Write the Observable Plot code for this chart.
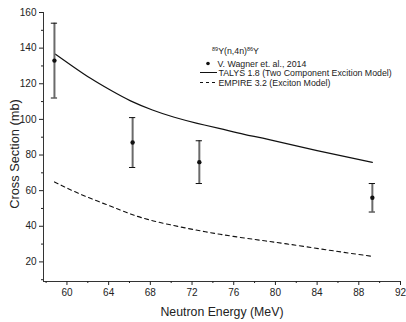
<!DOCTYPE html>
<html><head><meta charset="utf-8">
<script src="https://cdn.jsdelivr.net/npm/d3@7"></script>
<script src="https://cdn.jsdelivr.net/npm/@observablehq/plot@0.6"></script>
<style>
html,body{margin:0;padding:0;background:#fff;}
#chart{position:relative;width:406px;height:322px;font-family:"Liberation Sans",Arial,sans-serif;}
</style>
</head><body><div id="chart"></div>
<script>
// Experimental data: V. Wagner et. al., 2014
const expEnergy = [58.8, 66.3, 72.7, 89.3];
const expXs     = [133, 87, 76, 56];
const expLow    = [112, 73, 64, 48];
const expHigh   = [154, 101, 88, 64];

// TALYS 1.8 (Two Component Excition Model)
const talysEnergy = [58.9, 60.5, 62.3, 64.2, 66.1, 68.2, 70.3, 72.5, 74.7, 77, 79.5, 84, 89.3];
const talysXs     = [136.6, 130, 122.9, 116.3, 110.4, 105.3, 101.2, 97.8, 94.8, 91.6, 88.5, 82.5, 75.9];

// EMPIRE 3.2 (Exciton Model)
const empireEnergy = [58.8, 61.3, 63.9, 66.1, 68.3, 71.5, 74.7, 78, 81.1, 85, 89.3];
const empireXs     = [64.9, 58, 51.9, 46.9, 43.0, 38.9, 35.5, 32.6, 30.1, 26.7, 23.1];

const xDomain = [57.75, 92];
const yDomain = [9, 160];
const xMajor = [60, 64, 68, 72, 76, 80, 84, 88, 92];
const xMinor = [58, 62, 66, 70, 74, 78, 82, 86, 90];
const yMajor = [20, 40, 60, 80, 100, 120, 140, 160];
const yMinor = [10, 30, 50, 70, 90, 110, 130, 150];

const legendTitle = ["89", "Y(n,4n)", "86", "Y"];
const legendLabels = ["V. Wagner et. al., 2014", "TALYS 1.8 (Two Component Excition Model)", "EMPIRE 3.2 (Exciton Model)"];

const exp = expEnergy.map((e,i)=>({e, v:expXs[i], lo:expLow[i], hi:expHigh[i]}));
const talys = talysEnergy.map((e,i)=>({e, v:talysXs[i]}));
const empire = empireEnergy.map((e,i)=>({e, v:empireXs[i]}));
const capHalf = 0.3; // MeV
const caps = exp.flatMap(d => [{e: d.e, y: d.lo}, {e: d.e, y: d.hi}]);

const plot = Plot.plot({
  width: 406, height: 322,
  marginLeft: 43, marginRight: 6, marginTop: 12, marginBottom: 41,
  style: {fontFamily: '"Liberation Sans", Arial, sans-serif', fontSize: "10px", color: "#222", background: "#fff", overflow: "visible"},
  x: {type: "linear", domain: xDomain},
  y: {type: "linear", domain: yDomain},
  marks: [
    Plot.ruleX([xDomain[0]], {stroke: "#333", strokeWidth: 1}),
    Plot.ruleY([yDomain[0]], {stroke: "#333", strokeWidth: 1}),
    Plot.axisX({ticks: xMajor, tickSize: 4, tickPadding: 3, label: "Neutron Energy (MeV)", labelAnchor: "center", labelArrow: "none", labelOffset: 34}),
    Plot.axisX({ticks: xMinor, tickSize: 2, tickFormat: () => "", label: null}),
    Plot.axisY({ticks: yMajor, tickSize: 4, tickPadding: 3, label: "Cross Section (mb)", labelAnchor: "center", labelArrow: "none", labelOffset: 34}),
    Plot.axisY({ticks: yMinor, tickSize: 2, tickFormat: () => "", label: null}),
    Plot.line(talys, {x: "e", y: "v", stroke: "#111", strokeWidth: 1.2, curve: "natural"}),
    Plot.line(empire, {x: "e", y: "v", stroke: "#111", strokeWidth: 1.1, strokeDasharray: "4,3.5", curve: "natural"}),
    Plot.ruleX(exp, {x: "e", y1: "lo", y2: "hi", stroke: "#6a6a6a", strokeWidth: 2}),
    Plot.ruleY(caps, {y: "y", x1: d => d.e - capHalf, x2: d => d.e + capHalf, stroke: "#111", strokeWidth: 1}),
    Plot.dot(exp, {x: "e", y: "v", r: 2.2, fill: "#111", stroke: "none"})
  ]
});
document.getElementById("chart").appendChild(plot);

const svg = d3.select(plot);
svg.selectAll("g[aria-label='x-axis label'] text").style("font-size", "12.3px");
svg.selectAll("g[aria-label='y-axis label'] text").style("font-size", "12.8px").each(function(){
  const el = d3.select(this);
  el.attr("transform", (el.attr("transform") || "") + " translate(-7,0)");
});

// Legend
const lg = svg.append("g").style("font-size", "8.8px").attr("fill", "#222").attr("text-anchor", "start");
const t = lg.append("text").attr("x", 212).attr("y", 54);
t.append("tspan").style("font-size", "5.5px").attr("dy", "-3.5").text(legendTitle[0]);
t.append("tspan").attr("dy", "3.5").text(legendTitle[1]);
t.append("tspan").style("font-size", "5.5px").attr("dy", "-3.5").text(legendTitle[2]);
t.append("tspan").attr("dy", "3.5").text(legendTitle[3]);
lg.append("circle").attr("cx", 208).attr("cy", 63.5).attr("r", 1.8).attr("fill", "#111");
lg.append("text").attr("x", 217.5).attr("y", 66.5).text(legendLabels[0]);
lg.append("line").attr("x1", 200).attr("x2", 217).attr("y1", 72.5).attr("y2", 72.5).attr("stroke", "#111").attr("stroke-width", 1);
lg.append("text").attr("x", 218.5).attr("y", 75.8).text(legendLabels[1]);
lg.append("line").attr("x1", 200).attr("x2", 216).attr("y1", 82.5).attr("y2", 82.5).attr("stroke", "#111").attr("stroke-width", 1).attr("stroke-dasharray", "3,3");
lg.append("text").attr("x", 218.5).attr("y", 85.8).text(legendLabels[2]);
</script></body></html>
